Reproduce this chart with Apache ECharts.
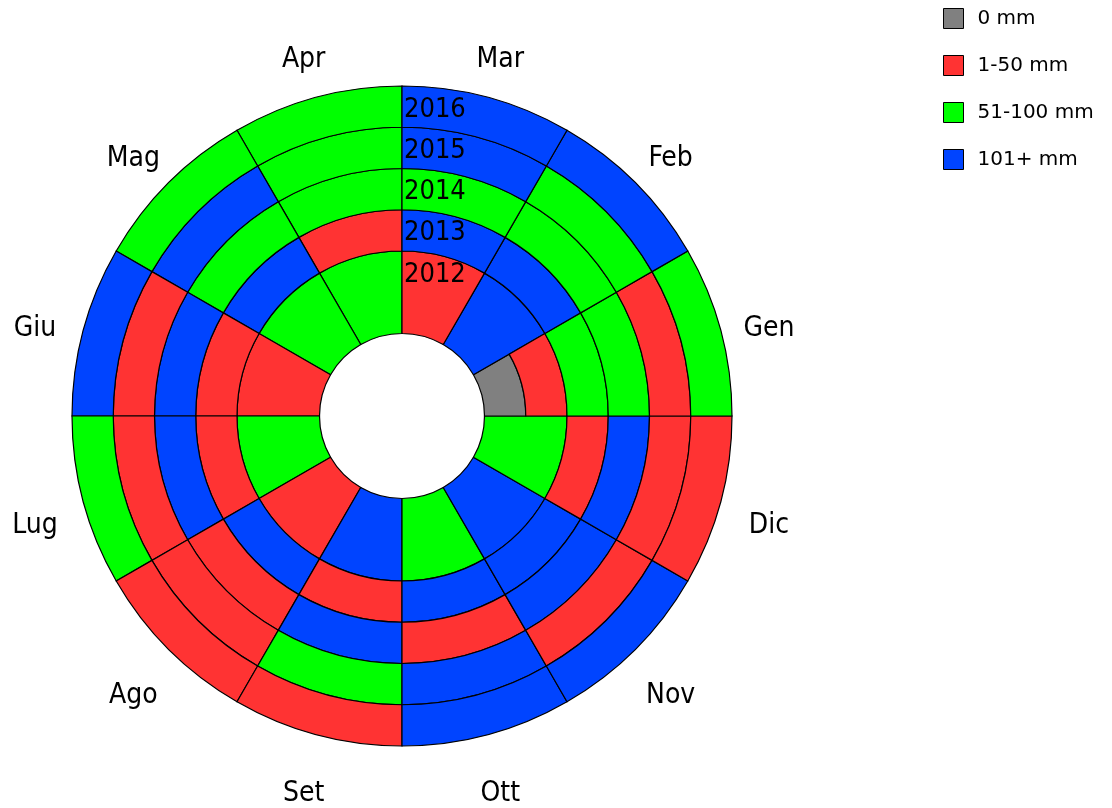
<!DOCTYPE html>
<html>
<head>
<meta charset="utf-8">
<script src="https://cdn.jsdelivr.net/npm/echarts@6/dist/echarts.min.js"></script>
<style>
html,body{margin:0;padding:0;background:#fff;}
#chart{width:1112px;height:808px;}
</style>
</head>
<body>
<div id="chart"></div>
<script>
// ---- data ----
const months = ['Gen','Feb','Mar','Apr','Mag','Giu','Lug','Ago','Set','Ott','Nov','Dic'];
const years = ['2012','2013','2014','2015','2016'];
const classes = ['0 mm','1-50 mm','51-100 mm','101+ mm'];
const classColors = ['#808080','#FF3333','#00FF00','#0044FF'];
// class index per month (Gen..Dic): 0 = 0 mm, 1 = 1-50, 2 = 51-100, 3 = 101+
const innerRing = [0,3,1,2,2,1,2,1,3,2,3,2];
const y2012 = [1,3,1,2,2,1,2,1,3,2,3,2];
const y2013 = [2,3,3,1,3,1,1,3,1,3,3,1];
const y2014 = [2,2,2,2,2,3,3,1,3,1,3,3];
const y2015 = [1,2,3,2,3,1,1,1,2,3,1,1];
const y2016 = [2,3,3,2,2,3,2,1,1,3,3,1];
const yearRings = [y2012, y2013, y2014, y2015, y2016];
const monthLabelRadius = 9.21;   // in ring units, where month names sit

// angle axis starts at 90deg (Apr) going counter-clockwise
const order = [3,4,5,6,7,8,9,10,11,0,1,2];
const FONT = "'DejaVu Sans Condensed', 'DejaVu Sans', sans-serif";

const border = {borderColor:'#000', borderWidth:1.2};
const series = [];
series.push({
  type:'bar', coordinateSystem:'polar', stack:'r', barCategoryGap:'0%', silent:true,
  data: order.map(() => ({value:2, itemStyle:{color:'rgba(0,0,0,0)', borderWidth:0}}))
});
series.push({
  type:'bar', coordinateSystem:'polar', stack:'r', barCategoryGap:'0%', itemStyle:border,
  data: order.map(i => ({value: innerRing[i] === y2012[i] ? 2 : 1,
                         itemStyle:{color: classColors[innerRing[i]]}}))
});
yearRings.forEach((ring, k) => {
  series.push({
    type:'bar', coordinateSystem:'polar', stack:'r', barCategoryGap:'0%', itemStyle:border,
    name: years[k],
    data: order.map(i => {
      if (k === 0 && innerRing[i] === y2012[i]) {
        return {value:0, itemStyle:{color:'rgba(0,0,0,0)', borderWidth:0}};
      }
      return {value:1, itemStyle:{color: classColors[ring[i]]}};
    })
  });
});
// month names around the wheel
series.push({
  type:'scatter', coordinateSystem:'polar', clip:false, silent:true,
  symbolSize:1, itemStyle:{color:'rgba(0,0,0,0)', opacity:1},
  data: order.map(i => [monthLabelRadius, months[i]]),
  label:{show:true, position:'inside', offset:[0,11], opacity:1,
         textBorderWidth:0,
         formatter: p => p.value[1], fontSize:28, fontFamily:FONT, color:'#000000'},
  z:10
});
classes.forEach((c, k) => {
  series.push({
    type:'scatter', coordinateSystem:'polar', name:c, data:[],
    itemStyle:{color: classColors[k], borderColor:'#000', borderWidth:1, opacity:1}
  });
});

const chart = echarts.init(document.getElementById('chart'), null, {renderer:'canvas'});
chart.setOption({
  backgroundColor:'#fff',
  animation:false,
  polar:{center:[402,416], radius:330},
  angleAxis:{
    type:'category', data: order.map(i => months[i]),
    startAngle:90, clockwise:false, boundaryGap:true,
    axisLine:{show:false}, axisTick:{show:false}, splitLine:{show:false},
    axisLabel:{show:false}
  },
  radiusAxis:{
    type:'value', min:0, max:8, interval:0.5, z:10,
    axisLine:{show:false}, axisTick:{show:false}, splitLine:{show:false},
    axisLabel:{
      margin:-2, align:'left', fontSize:27, fontFamily:FONT, color:'#000',
      rich:{y:{fontSize:27, fontFamily:FONT, color:'#000', padding:[6,0,0,0]}},
      formatter: v => {
        const k = v - 3.5;
        return (Number.isInteger(k) && k >= 0 && k < years.length) ? '{y|' + years[k] + '}' : '';
      }
    }
  },
  legend:{
    orient:'vertical', left:938, top:3, itemWidth:20, itemHeight:20, itemGap:26,
    data: classes.map(n => ({name:n, icon:'rect'})),
    itemStyle:{borderColor:'#000', borderWidth:1, opacity:1},
    textStyle:{fontSize:20, lineHeight:20, fontFamily:"'DejaVu Sans', sans-serif", color:'#000', padding:[0,0,0,9]},
    selectedMode:false
  },
  series: series
});
</script>
</body>
</html>
